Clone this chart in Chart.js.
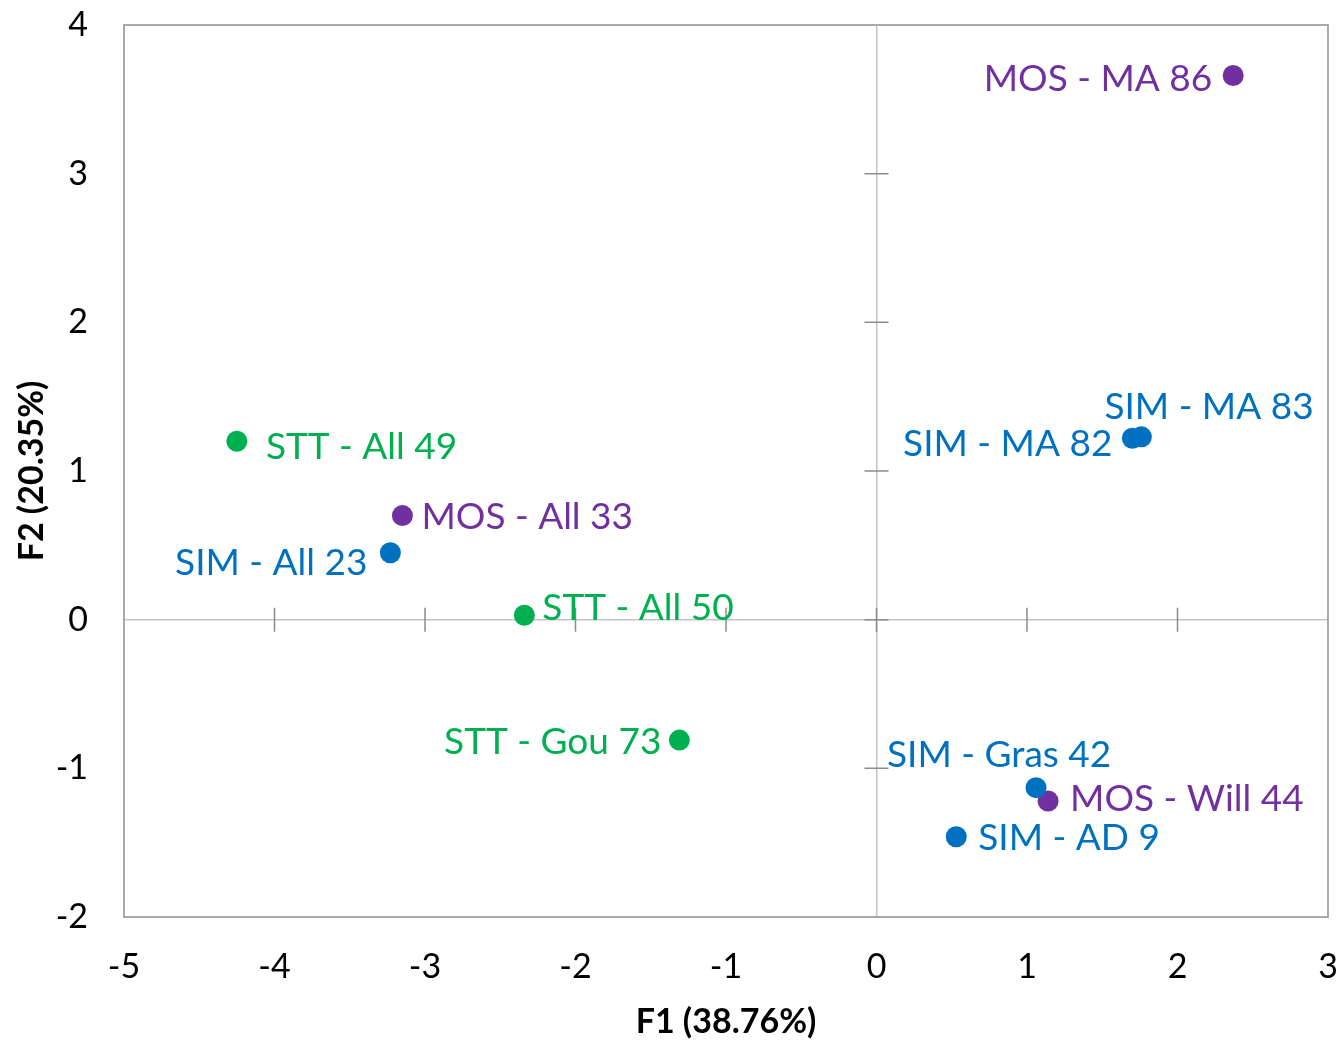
<!DOCTYPE html>
<html>
<head>
<meta charset="utf-8">
<script src="https://cdn.jsdelivr.net/npm/chart.js@4.4.1/dist/chart.umd.min.js"></script>
<style>
  html, body { margin: 0; padding: 0; background: #fff; }
  #wrap { width: 1340px; height: 1042px; }
</style>
</head>
<body>
<div id="wrap"><canvas id="c" width="1340" height="1042"></canvas></div>
<script>
// ---- data ----
const pointNames = ['MOS - MA 86', 'SIM - MA 83', 'SIM - MA 82', 'STT - All 49', 'MOS - All 33',
                    'SIM - All 23', 'STT - All 50', 'STT - Gou 73', 'SIM - Gras 42', 'MOS - Will 44', 'SIM - AD 9'];
const f1Values = [2.37, 1.76, 1.70, -4.25, -3.15, -3.23, -2.34, -1.31, 1.06, 1.14, 0.53];
const f2Values = [3.66, 1.23, 1.22, 1.20, 0.70, 0.45, 0.03, -0.81, -1.13, -1.22, -1.46];
const pointGroups = ['MOS', 'SIM', 'SIM', 'STT', 'MOS', 'SIM', 'STT', 'STT', 'SIM', 'MOS', 'SIM'];
const groupOrder = ['SIM', 'STT', 'MOS'];
const xTickValues = [-5, -4, -3, -2, -1, 0, 1, 2, 3];
const yTickValues = [-2, -1, 0, 1, 2, 3, 4];
const xTitle = 'F1 (38.76%)';
const yTitle = 'F2 (20.35%)';

// ---- styles ----
const groupColors = { MOS: '#7030A0', SIM: '#0070C0', STT: '#00B050' };
// label anchor side ('L' = text starts at anchor, 'R' = text ends at anchor) and pixel offset of anchor from point
const labelSide = ['R', 'L', 'R', 'L', 'L', 'R', 'L', 'R', 'L', 'L', 'L'];
const labelOffset = [[-21, 2], [-37, -31], [-20, 4], [29, 4], [19, 0], [-23, 9], [18, -9], [-18, 1], [-149, -34], [22, -3], [22, 0]];
const FONT = 'Lato, "Open Sans", sans-serif';
const labelSize = 37;

const datasets = groupOrder.map(g => {
  const data = [];
  pointNames.forEach((n, i) => { if (pointGroups[i] === g) data.push({ x: f1Values[i], y: f2Values[i], name: n, idx: i }); });
  return {
    label: g, data,
    backgroundColor: groupColors[g], borderColor: groupColors[g],
    pointRadius: 10.5, pointHoverRadius: 10.5, borderWidth: 0
  };
});

const framePlugin = {
  id: 'frame',
  beforeDatasetsDraw(chart) {
    const { ctx, chartArea: a, scales: { x, y } } = chart;
    const x0 = x.getPixelForValue(0), y0 = y.getPixelForValue(0);
    ctx.save();
    ctx.strokeStyle = '#8c8c8c';
    ctx.lineWidth = 1.5;
    ctx.beginPath();
    xTickValues.forEach(v => {
      if (v === x.min || v === x.max) return;
      const px = x.getPixelForValue(v);
      ctx.moveTo(px, y0 - 12); ctx.lineTo(px, y0 + 12);
    });
    yTickValues.forEach(v => {
      if (v === y.min || v === y.max) return;
      const py = y.getPixelForValue(v);
      ctx.moveTo(x0 - 12, py); ctx.lineTo(x0 + 12, py);
    });
    ctx.stroke();
    ctx.strokeStyle = '#a0a0a0';
    ctx.lineWidth = 1.8;
    ctx.strokeRect(a.left, a.top, a.right - a.left, a.bottom - a.top);
    ctx.restore();
  },
  afterDatasetsDraw(chart) {
    const { ctx } = chart;
    ctx.save();
    ctx.font = labelSize + 'px ' + FONT;
    ctx.textBaseline = 'alphabetic';
    chart.data.datasets.forEach((ds, di) => {
      const meta = chart.getDatasetMeta(di);
      meta.data.forEach((el, j) => {
        const d = ds.data[j];
        const i = d.idx;
        const [dx, dy] = labelOffset[i];
        ctx.fillStyle = groupColors[pointGroups[i]];
        ctx.textAlign = labelSide[i] === 'L' ? 'left' : 'right';
        ctx.fillText(d.name, el.x + dx, el.y + dy + labelSize * 0.36);
      });
    });
    ctx.restore();
  }
};

new Chart(document.getElementById('c'), {
  type: 'scatter',
  data: { datasets },
  plugins: [framePlugin],
  options: {
    responsive: false,
    animation: false,
    devicePixelRatio: 1,
    layout: { padding: { top: 25, right: 12, left: 0, bottom: 0 } },
    plugins: { legend: { display: false }, tooltip: { enabled: false } },
    scales: {
      x: {
        type: 'linear', min: -5, max: 3,
        afterBuildTicks: s => { s.ticks = xTickValues.map(v => ({ value: v })); },
        afterFit: s => { s.height = 125; s.paddingLeft = 0; s.paddingRight = 0; },
        grid: { drawTicks: false, lineWidth: 1.5, color: c => (c.tick && c.tick.value === 0) ? '#c4c4c4' : 'rgba(0,0,0,0)' },
        border: { display: false },
        ticks: { color: '#000', padding: 30, font: { family: FONT, size: 34 }, maxRotation: 0, autoSkip: false },
        title: { display: true, text: xTitle, color: '#000', font: { family: FONT, size: 34, weight: 'bold' }, padding: { top: 0, bottom: 0 } }
      },
      y: {
        type: 'linear', min: -2, max: 4,
        afterBuildTicks: s => { s.ticks = yTickValues.map(v => ({ value: v })); },
        afterFit: s => { s.width = 124; s.paddingTop = 0; s.paddingBottom = 0; },
        grid: { drawTicks: false, lineWidth: 1.5, color: c => (c.tick && c.tick.value === 0) ? '#c4c4c4' : 'rgba(0,0,0,0)' },
        border: { display: false },
        ticks: { color: '#000', padding: 36, font: { family: FONT, size: 34 }, autoSkip: false },
        title: { display: true, text: yTitle, color: '#000', font: { family: FONT, size: 34, weight: 'bold' }, padding: { top: 12, bottom: 0 } }
      }
    }
  }
});
</script>
</body>
</html>
